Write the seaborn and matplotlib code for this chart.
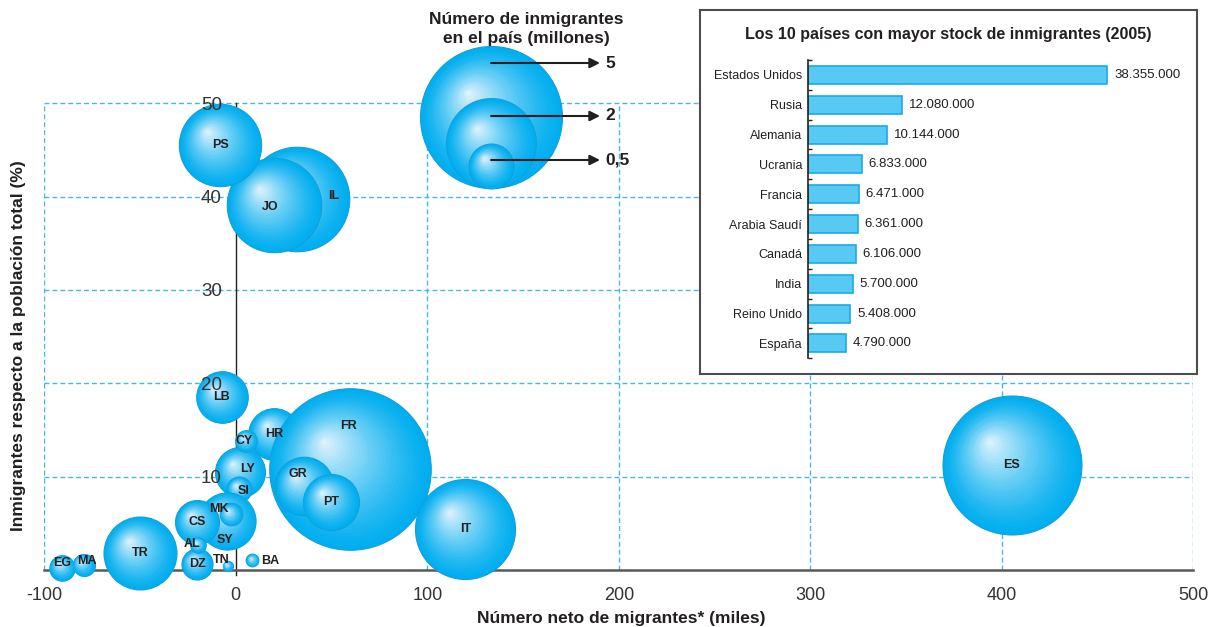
"""
Bubble chart: immigrants vs net migration in Mediterranean countries,
with an inset bar chart of the 10 countries with the largest immigrant stock.
"""
import numpy as np
import pandas as pd
import matplotlib
matplotlib.use('Agg')
import matplotlib.pyplot as plt
from matplotlib.colors import to_rgb
import seaborn as sns

W, H, DPI = 1211, 627, 100

# ---- bubble data (listed back to front) ----
codes = ['IL', 'JO', 'PS', 'LB', 'HR', 'LY', 'CY', 'SI', 'SY', 'MK', 'CS', 'DZ',
         'AL', 'TN', 'BA', 'TR', 'EG', 'MA', 'FR', 'GR', 'PT', 'IT', 'ES']
net_migrants = [31.7, 20.1, -8.1, -7.3, 20.2, 2.3, 5.3, 1.8, -4.5, -2.6, -20.1, -20.2,
                -19.9, -4.2, 8.7, -50.0, -90.5, -79.5, 59.6, 35.7, 49.6, 119.8, 405.2]
pct_immigrants = [39.7, 39.1, 45.5, 18.5, 14.6, 10.5, 13.85, 8.65, 5.3, 5.95, 5.1, 0.65,
                  2.7, 0.45, 1.05, 1.8, 0.27, 0.57, 10.8, 9.0, 7.3, 4.4, 11.2]
stock_millions = [2.71, 2.21, 1.68, 0.66, 0.66, 0.62, 0.116, 0.155, 0.81, 0.127, 0.48, 0.24,
                  0.06, 0.025, 0.04, 1.32, 0.16, 0.12, 6.471, 0.85, 0.78, 2.48, 4.79]

legend_values = [5, 2, 0.5]
legend_labels = ['5', '2', '0,5']

# ---- inset data ----
top_countries = ['Estados Unidos', 'Rusia', 'Alemania', 'Ucrania', 'Francia',
                 'Arabia Saudí', 'Canadá', 'India', 'Reino Unido', 'España']
top_stock = [38355000, 12080000, 10144000, 6833000, 6471000,
             6361000, 6106000, 5700000, 5408000, 4790000]

# label nudges in points (layout only)
LABEL_OFFSETS = {'TN': (-4.8, 4.3), 'BA': (13, -0.5), 'MK': (-8.6, 3.7), 'SY': (-1.4, -14.2),
                 'LY': (5.5, 2.2), 'SI': (3, -1.1), 'FR': (-1, 30.8), 'GR': (-4.3, 8.4),
                 'EG': (0, 3), 'MA': (2.7, 2.9), 'IL': (26.7, 2.2), 'JO': (-2.7, -1.4),
                 'AL': (-3.8, 0.5), 'CY': (-1.2, 0)}

# -- Style --
sns.set_style('white')
plt.rcParams['font.family'] = ['Liberation Sans', 'DejaVu Sans']
plt.rcParams['axes.unicode_minus'] = False
DARK = '#231f20'
BASE = np.array(to_rgb('#00aeef'))
LIGHT = np.array(to_rgb('#dcf2fc'))
EDGE = '#149fd8'
GRID = '#45b6e6'
R_UNIT = 31.75      # bubble radius in px for 1 million
N_LEVELS = 30


def fig_rect(x0, y0, x1, y1):
    """image pixel box (top-left origin) -> figure fraction rect"""
    return [x0 / W, 1 - y1 / H, (x1 - x0) / W, (y1 - y0) / H]


def draw_bubble(ax, x, y, stock, z):
    r_px = R_UNIT * np.sqrt(stock)
    s = (2 * r_px * 72 / DPI) ** 2
    sns.scatterplot(x=[x], y=[y], s=s, color=tuple(BASE), edgecolor=EDGE, linewidth=0.8,
                    zorder=z, clip_on=False, legend=False, ax=ax)
    # fake radial gradient: shrinking lighter discs drifting to the upper-left
    cx, cy = ax.transData.transform((x, y))
    hx, hy = cx - 0.32 * r_px, cy + 0.34 * r_px
    inv = ax.transData.inverted()
    for k in range(1, N_LEVELS + 1):
        t = k / N_LEVELS
        rt = r_px * (1 - 0.97 * t)
        px, py = inv.transform((cx + t * (hx - cx), cy + t * (hy - cy)))
        col = BASE + (LIGHT - BASE) * t ** 1.3
        ax.scatter([px], [py], s=(2 * rt * 72 / DPI) ** 2, color=[tuple(col)],
                   linewidths=0, zorder=z + k * 1e-3, clip_on=False)


fig = plt.figure(figsize=(W / DPI, H / DPI), dpi=DPI)

# ---- main bubble axes ----
ax = fig.add_axes(fig_rect(44.3, 61.3, 1193.3, 602.7))
ax.set_xlim(-100, 500)
ax.set_ylim(-3.5, 54.5)
ax.set_axisbelow(False)

ax.hlines([10, 20, 30, 40, 50], -100, 500, colors=GRID, linestyles=(0, (3.5, 2.2)),
          lw=1.0, zorder=0.5)
ax.vlines([-100, 100, 200, 300, 400, 500], 0, 50, colors=GRID, linestyles=(0, (3.5, 2.2)),
          lw=1.0, zorder=0.5)

df = pd.DataFrame({'code': codes, 'x': net_migrants, 'y': pct_immigrants, 'stock': stock_millions})
for i, row in df.iterrows():
    z = 1.0 + i * 0.04
    draw_bubble(ax, row['x'], row['y'], row['stock'], z)
    ax.annotate(row['code'], (row['x'], row['y']), xytext=LABEL_OFFSETS.get(row['code'], (0, 0)),
                textcoords='offset points', ha='center', va='center', fontsize=9,
                fontweight='bold', color=DARK, zorder=2.4)

# size legend (nested circles sharing a bottom)
leg_x_disp, leg_bottom_disp = ax.transData.transform((133.3, 40.9))
inv = ax.transData.inverted()
for j, (v, lab, arrow_y) in enumerate(zip(legend_values, legend_labels, [63, 116, 160])):
    r_px = R_UNIT * np.sqrt(v)
    lx, ly = inv.transform((leg_x_disp, leg_bottom_disp + r_px))
    draw_bubble(ax, lx, ly, v, 2.0 + j * 0.1)
    ax.annotate('', xy=(600, H - arrow_y), xytext=(leg_x_disp, H - arrow_y),
                xycoords='figure pixels', textcoords='figure pixels',
                arrowprops=dict(arrowstyle='-|>', color=DARK, lw=1.5, mutation_scale=15,
                                shrinkA=0, shrinkB=0), zorder=2.45)
    fig.text(605 / W, 1 - arrow_y / H, lab, ha='left', va='center', fontsize=12.5,
             fontweight='bold', color=DARK)

fig.text(526.5 / W, 1 - 29 / H, 'Número de inmigrantes\nen el país (millones)',
         ha='center', va='center', fontsize=12.5, fontweight='bold', color=DARK,
         linespacing=1.35)

for side in ['top', 'right']:
    ax.spines[side].set_visible(False)
ax.spines['left'].set_position(('data', 0))
ax.spines['left'].set_bounds(-0.5, 50)
ax.spines['left'].set_color(DARK)
ax.spines['left'].set_linewidth(1.0)
ax.spines['left'].set_zorder(0.8)
ax.spines['bottom'].set_position(('data', 0))
ax.spines['bottom'].set_bounds(-100, 500)
ax.spines['bottom'].set_color('#58595b')
ax.spines['bottom'].set_linewidth(1.8)
ax.spines['bottom'].set_zorder(0.8)

ax.set_xticks([-100, 0, 100, 200, 300, 400, 500])
ax.set_yticks([10, 20, 30, 40, 50])
ax.tick_params(axis='x', length=3.6, width=1.2, color='#58595b', pad=8.5,
               labelsize=13, labelcolor='#333333')
ax.tick_params(axis='y', length=3, width=1.0, color=DARK, pad=7,
               labelsize=13.5, labelcolor='#333333')
ax.set_xlabel('')
ax.set_ylabel('')

fig.text(621.5 / W, 1 - 618 / H, 'Número neto de migrantes* (miles)', ha='center', va='center',
         fontsize=12.5, fontweight='bold', color=DARK)
fig.text(18.3 / W, 1 - 345.5 / H, 'Inmigrantes respecto a la población total (%)',
         ha='center', va='center', rotation=90, fontsize=12.5, fontweight='bold', color=DARK)

# ---- inset: top 10 immigrant stock ----
box = fig.add_axes(fig_rect(700, 10, 1197, 374))
box.set_xticks([])
box.set_yticks([])
box.set_facecolor('white')
for sp in box.spines.values():
    sp.set_color('#4d4d4d')
    sp.set_linewidth(1.5)
fig.text(948 / W, 1 - 34 / H, 'Los 10 países con mayor stock de inmigrantes (2005)',
         ha='center', va='center', fontsize=11.5, fontweight='bold', color=DARK)

bax = fig.add_axes(fig_rect(808.3, 60, 1190, 358.3))
bax.patch.set_visible(False)
sns.barplot(x=top_stock, y=top_countries, orient='h', color='#57c9f2', edgecolor='#18ace6',
            linewidth=1.2, saturation=1, width=0.6, ax=bax)
bax.set_xlim(0, 49.0e6)
bax.set_ylim(9.5, -0.5)
bax.set_xticks([])
bax.set_yticks(range(len(top_countries)))
bax.set_yticklabels(top_countries)
bax.set_yticks(np.arange(-0.5, len(top_countries), 1), minor=True)
bax.tick_params(axis='y', which='major', length=0, pad=4.5, labelsize=9, labelcolor=DARK)
bax.tick_params(axis='y', which='minor', direction='in', length=3, width=1.0, color=DARK, left=True)
for side in ['top', 'right', 'bottom']:
    bax.spines[side].set_visible(False)
bax.spines['left'].set_color(DARK)
bax.spines['left'].set_linewidth(1.2)
bax.set_xlabel('')
bax.set_ylabel('')
bax.bar_label(bax.containers[0], labels=[f'{v:,}'.replace(',', '.') for v in top_stock],
              padding=5, fontsize=9.5, color=DARK)

fig.savefig('out.png', dpi=DPI, facecolor='white')
